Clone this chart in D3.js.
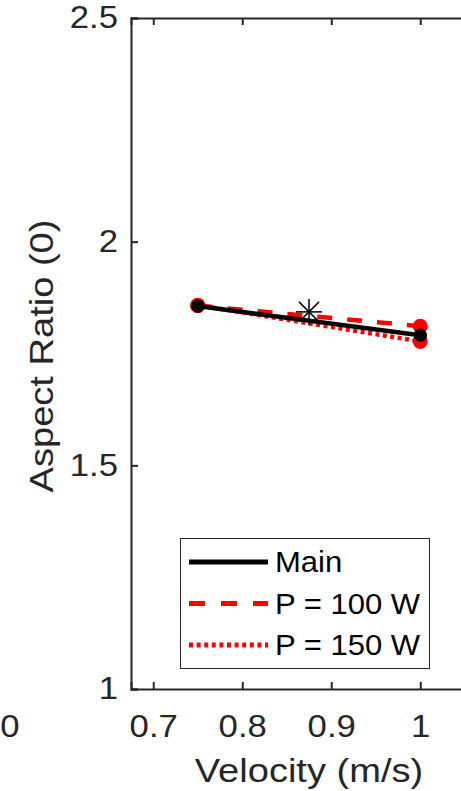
<!DOCTYPE html>
<html>
<head>
<meta charset="utf-8">
<script src="https://cdn.jsdelivr.net/npm/d3@7"></script>
<style>
  body { margin: 0; background: #fff; }
  svg { display: block; font-family: "Liberation Sans", Arial, sans-serif; }
</style>
</head>
<body>
<svg id="chart" width="461" height="791"></svg>
<script>
// values
const velocity = [0.75, 1.0]
const mainAR = [1.856, 1.791]
const p100AR = [1.857, 1.811]
const p150AR = [1.858, 1.777]
const starPoint = [0.875, 1.843]
const xTicks = [0.7, 0.8, 0.9, 1]
const yTicks = [1, 1.5, 2, 2.5]
const legendLabels = ["Main", "P = 100 W", "P = 150 W"]

const ink = "#262626"
const stretch = 1.12 // reference glyphs are a bit wider than Liberation Sans
const svg = d3.select("#chart")

const x = d3.scaleLinear().domain([0.675, 1.075]).range([131, 487])
const y = d3.scaleLinear().domain([1, 2.5]).range([689, 18])

// axes (ticks point inward, box on)
const tickFmt = d => d3.format("")(d)
const gx = svg.append("g").attr("transform", `translate(0,${y(1)})`)
  .call(d3.axisBottom(x).tickValues(xTicks).tickSize(-7).tickPadding(26).tickFormat(tickFmt))
const gxTop = svg.append("g").attr("transform", `translate(0,${y(2.5)})`)
  .call(d3.axisTop(x).tickValues(xTicks).tickSize(-7).tickFormat(""))
const gy = svg.append("g").attr("transform", `translate(${x(0.675)},0)`)
  .call(d3.axisLeft(y).tickValues(yTicks).tickSize(-7).tickPadding(13).tickFormat(tickFmt))

;[gx, gxTop, gy].forEach(g => {
  g.select(".domain").attr("stroke", ink).attr("stroke-width", 2)
  g.selectAll(".tick line").attr("stroke", ink).attr("stroke-width", 2)
  g.selectAll(".tick text").attr("fill", ink).attr("font-size", 31)
    .attr("font-family", "Liberation Sans, Arial, sans-serif")
    .attr("transform", `scale(${stretch},1)`)
})
gx.selectAll(".tick text").attr("dy", "0.71em")
gy.selectAll(".tick text").attr("x", -13 / stretch)

// stray tick label from the neighbouring panel
svg.append("text").attr("transform", `translate(10,737) scale(${stretch},1)`)
  .attr("text-anchor", "middle").attr("font-size", 31).attr("fill", ink).text("0")

// axis titles
svg.append("text").attr("transform", `translate(${x(0.875)},782) scale(${stretch},1)`)
  .attr("text-anchor", "middle").attr("font-size", 34).attr("fill", ink).text("Velocity (m/s)")
svg.append("text").attr("transform", `translate(53,356) rotate(-90) scale(${stretch},1)`)
  .attr("text-anchor", "middle").attr("font-size", 34).attr("fill", ink).text("Aspect Ratio (0)")

// series
const series = [
  { name: "P = 150 W", vals: p150AR, color: "#ff0000", dash: "4,3.5" },
  { name: "P = 100 W", vals: p100AR, color: "#ff0000", dash: "15,15" },
  { name: "Main", vals: mainAR, color: "#000000", dash: null }
]
const line = d3.line().x(d => x(d[0])).y(d => y(d[1]))

series.forEach(s => {
  const pts = velocity.map((v, i) => [v, s.vals[i]])
  svg.append("path").datum(pts).attr("d", line)
    .attr("fill", "none").attr("stroke", s.color).attr("stroke-width", 4.5)
    .attr("stroke-dasharray", s.dash)
  svg.selectAll(null).data(pts).enter().append("circle")
    .attr("cx", d => x(d[0])).attr("cy", d => y(d[1]))
    .attr("r", s.color === "#000000" ? 6.7 : 7.5).attr("fill", s.color)
})

// asterisk marker (plus + cross)
const sx = x(starPoint[0]), sy = y(starPoint[1])
const arms = [[0, 13], [13, 0], [10, 10], [10, -10]]
arms.forEach(([dx, dy]) => {
  svg.append("line").attr("x1", sx - dx).attr("y1", sy - dy).attr("x2", sx + dx).attr("y2", sy + dy)
    .attr("stroke", "#000").attr("stroke-width", 1.5)
})

// legend
const legend = svg.append("g")
legend.append("rect").attr("x", 180.5).attr("y", 538.5).attr("width", 249).attr("height", 130)
  .attr("fill", "#fff").attr("stroke", ink).attr("stroke-width", 1)
const legendStyles = [
  { color: "#000", dash: null },
  { color: "#ff0000", dash: "16,16" },
  { color: "#ff0000", dash: "4,3.6" }
]
legendLabels.forEach((lab, i) => {
  const ly = 562 + i * 41.5
  legend.append("line").attr("x1", 189).attr("x2", 268).attr("y1", ly).attr("y2", ly)
    .attr("stroke", legendStyles[i].color).attr("stroke-width", 5)
    .attr("stroke-dasharray", legendStyles[i].dash)
  legend.append("text").attr("transform", `translate(275,${ly}) scale(1.07,1)`).attr("dy", "0.36em")
    .attr("font-size", 29).attr("fill", "#000").text(lab)
})
</script>
</body>
</html>
